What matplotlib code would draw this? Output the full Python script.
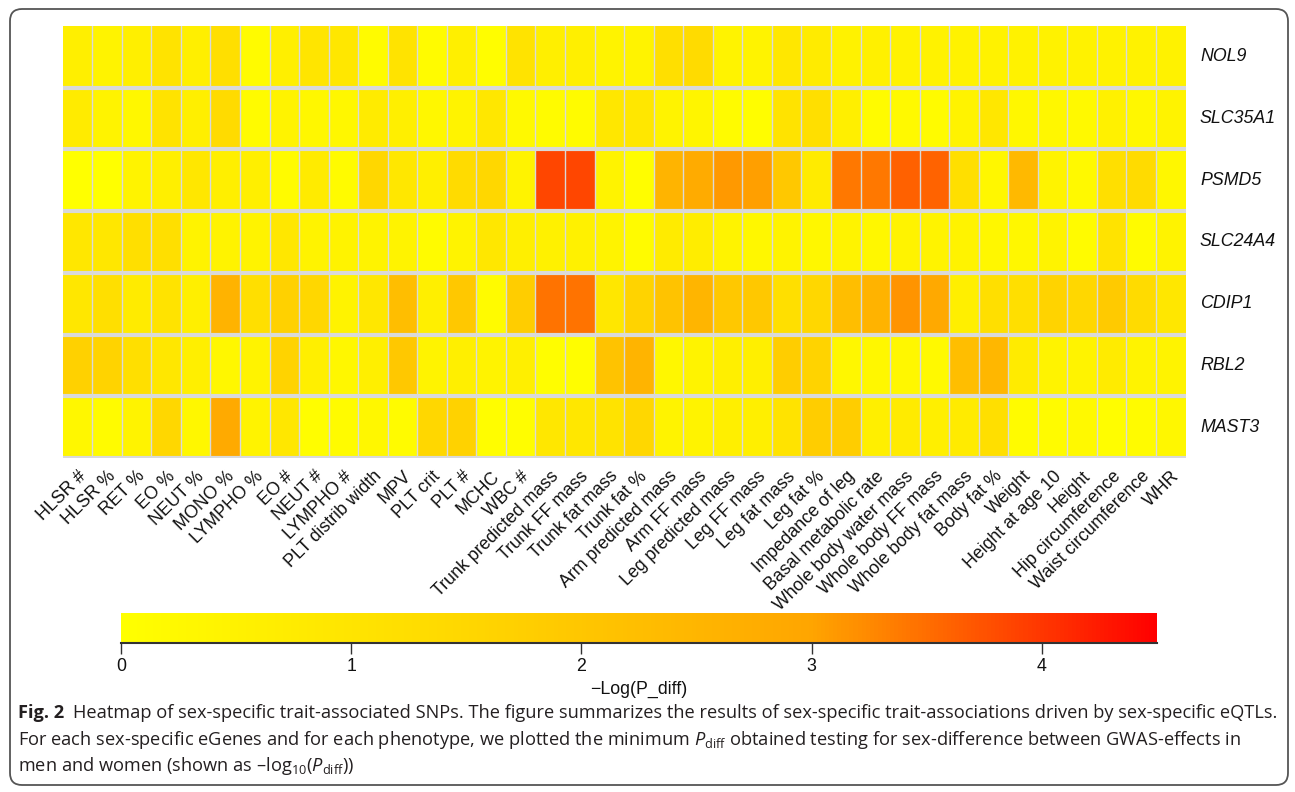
import numpy as np
import matplotlib
matplotlib.use("Agg")
import matplotlib.pyplot as plt
from matplotlib.colors import LinearSegmentedColormap
from matplotlib.patches import FancyBboxPatch
from matplotlib.transforms import IdentityTransform

plt.rcParams['font.family'] = ['Liberation Sans', 'DejaVu Sans']
plt.rcParams['mathtext.fontset'] = 'custom'
plt.rcParams['mathtext.rm'] = 'Open Sans'
plt.rcParams['mathtext.it'] = 'Open Sans:italic'

# phenotypes (columns) and eGenes (rows)
traits = ['HLSR #', 'HLSR %', 'RET %', 'EO %', 'NEUT %', 'MONO %', 'LYMPHO %',
          'EO #', 'NEUT #', 'LYMPHO #', 'PLT distrib width', 'MPV', 'PLT crit',
          'PLT #', 'MCHC', 'WBC #', 'Trunk predicted mass', 'Trunk FF mass',
          'Trunk fat mass', 'Trunk fat %', 'Arm predicted mass', 'Arm FF mass',
          'Leg predicted mass', 'Leg FF mass', 'Leg fat mass', 'Leg fat %',
          'Impedance of leg', 'Basal metabolic rate', 'Whole body water mass',
          'Whole body FF mass', 'Whole body fat mass', 'Body fat %', 'Weight',
          'Height at age 10', 'Height', 'Hip circumference',
          'Waist circumference', 'WHR']
genes = ['NOL9', 'SLC35A1', 'PSMD5', 'SLC24A4', 'CDIP1', 'RBL2', 'MAST3']

# -log10(P_diff)
nol9 = [0.6, 0.45, 0.6, 1.05, 0.6, 1.2, 0.15, 0.6, 1.0, 0.9, 0.15, 1.05, 0.15,
        0.6, 0.08, 1.05, 0.6, 0.6, 0.45, 0.45, 1.2, 1.35, 0.45, 0.45, 0.9, 0.75,
        0.5, 0.55, 0.5, 0.5, 0.5, 0.5, 0.5, 0.5, 0.5, 0.5, 0.5, 0.5]
slc35a1 = [0.75, 0.45, 0.3, 1.05, 0.6, 1.35, 0.15, 0.45, 0.3, 0.3, 0.75, 0.6, 0.3,
           0.45, 0.9, 0.22, 0.15, 0.15, 0.9, 0.9, 0.45, 0.38, 0.15, 0.08, 1.05, 1.2,
           0.6, 0.15, 0.22, 0.15, 0.45, 0.9, 0.3, 0.3, 0.22, 0.52, 0.3, 0.45]
psmd5 = [0.0, 0.0, 0.45, 0.6, 0.9, 0.6, 0.6, 0.15, 0.75, 0.15, 1.5, 0.9, 0.6,
         1.35, 1.5, 0.45, 3.86, 3.86, 0.45, 0.08, 2.55, 2.8, 3.1, 3.05, 1.95, 0.75,
         3.4, 3.4, 3.62, 3.6, 1.2, 0.3, 2.4, 0.45, 0.22, 1.2, 1.35, 0.3]
slc24a4 = [0.9, 0.9, 1.2, 1.2, 0.45, 0.45, 0.45, 0.9, 0.45, 0.45, 0.45, 0.45, 0.15,
           0.45, 0.9, 0.6, 0.52, 0.52, 0.45, 0.15, 0.75, 0.68, 0.45, 0.3, 0.45, 0.3,
           0.45, 0.3, 0.45, 0.45, 0.45, 0.3, 0.3, 0.45, 0.15, 1.05, 0.15, 0.45]
cdip1 = [0.9, 1.2, 0.75, 1.05, 0.6, 2.6, 1.2, 1.7, 1.5, 0.45, 0.9, 2.25, 0.6,
         1.95, 0.15, 1.8, 3.45, 3.45, 0.9, 1.63, 2.1, 2.5, 1.95, 1.95, 1.2, 1.5,
         2.25, 2.6, 3.15, 2.9, 0.6, 1.2, 1.2, 1.63, 1.5, 1.89, 1.35, 0.9]
rbl2 = [1.7, 1.6, 1.2, 0.9, 0.6, 0.3, 0.45, 1.6, 0.6, 0.3, 0.6, 1.95, 0.45,
        0.6, 0.45, 0.6, 0.08, 0.08, 2.1, 2.55, 0.3, 0.45, 0.6, 0.6, 1.8, 1.63,
        0.3, 0.3, 0.3, 0.22, 2.25, 2.45, 0.75, 0.45, 0.45, 0.75, 0.45, 0.45]
mast3 = [0.3, 0.15, 0.45, 1.5, 0.3, 2.85, 0.45, 0.9, 0.08, 0.15, 0.3, 0.15, 1.5,
         1.65, 0.08, 0.08, 0.9, 0.9, 1.05, 1.5, 0.45, 0.45, 0.6, 0.6, 1.05, 1.8,
         1.8, 0.6, 0.75, 0.6, 0.75, 1.2, 0.15, 0.15, 0.22, 0.08, 0.15, 0.3]

values = np.array([nol9, slc35a1, psmd5, slc24a4, cdip1, rbl2, mast3])

W, H = 1295, 792
fig = plt.figure(figsize=(W / 100, H / 100), dpi=100)


def box(l, t, r, b):
    return [l / W, 1 - b / H, (r - l) / W, (b - t) / H]


cmap = LinearSegmentedColormap.from_list('ygor', ['#FFFF00', '#FFD700', '#FFA500', '#FF0000'])

ax = fig.add_axes(box(62.7, 26, 1185.6, 458))
mesh = ax.pcolormesh(values, cmap=cmap, vmin=0, vmax=4.5)
ax.set_xlim(0, len(traits))
ax.set_ylim(len(genes), 0)
for x in range(1, len(traits)):
    ax.axvline(x, color='#D9D9D9', lw=1.0)
for y in range(1, len(genes) + 1):
    ax.axhline(y, color='#D9D9D9', lw=3.0)
for s in ax.spines.values():
    s.set_visible(False)

ax.set_xticks(np.arange(len(traits)) + 0.5)
ax.set_xticklabels(traits, rotation=45, ha='right', rotation_mode='anchor',
                   fontsize=12.8, color='#111111')
ax.tick_params(axis='x', length=0, pad=7)
ax.set_yticks([])
for i, g in enumerate(genes):
    ax.text(1.0128, i + 0.5, g, transform=ax.get_yaxis_transform(),
            fontsize=12.8, style='italic', va='center', ha='left', color='#111111')

# colour bar
cax = fig.add_axes(box(121, 613, 1157, 643))
cb = fig.colorbar(mesh, cax=cax, orientation='horizontal', ticks=[0, 1, 2, 3, 4])
cb.outline.set_visible(False)
cax.axhline(0, color='#333333', lw=1.5, clip_on=False)
cax.tick_params(length=8, width=1, color='#333333', labelsize=12.8, pad=3,
                labelcolor='#111111')
cb.set_label('\u2212Log(P_diff)', fontsize=12.8, labelpad=4, color='#111111')

# frame
fig.patches.append(FancyBboxPatch((10, 7), 1278, 776, boxstyle='round,pad=0,rounding_size=12',
                                  transform=IdentityTransform(), fill=False,
                                  ec='#555555', lw=1.3))

# caption
cap_font = 'Open Sans'
cap_col = '#231f20'
line1 = ('Heatmap of sex-specific trait-associated SNPs. The figure summarizes the results of '
         'sex-specific trait-associations driven by sex-specific eQTLs.')
line2 = ('For each sex-specific eGenes and for each phenotype, we plotted the minimum '
         r'$P_{\mathrm{diff}}$ obtained testing for sex-difference between GWAS-effects in')
line3 = 'men and women (shown as \u2013log$_{10}$($P_{\\mathrm{diff}}$))'

renderer = fig.canvas.get_renderer()


def draw_caption(size):
    t1 = fig.text(18 / W, 1 - 718 / H, 'Fig. 2', fontsize=size, fontweight='bold',
                  family=cap_font, color=cap_col, va='baseline')
    bb = t1.get_window_extent(renderer)
    t2 = fig.text((bb.x1 + 9) / W, 1 - 718 / H, line1, fontsize=size, family=cap_font,
                  color=cap_col, va='baseline')
    t3 = fig.text(18 / W, 1 - 745 / H, line2, fontsize=size, family=cap_font,
                  color=cap_col, va='baseline')
    t4 = fig.text(18 / W, 1 - 771 / H, line3, fontsize=size, family=cap_font,
                  color=cap_col, va='baseline')
    return [t1, t2, t3, t4]


texts = draw_caption(11)
right = texts[1].get_window_extent(renderer).x1
for t in texts:
    t.remove()
size = 11 * (1283 - 18) / (right - 18)
draw_caption(size)

fig.savefig('out.png', dpi=100)
